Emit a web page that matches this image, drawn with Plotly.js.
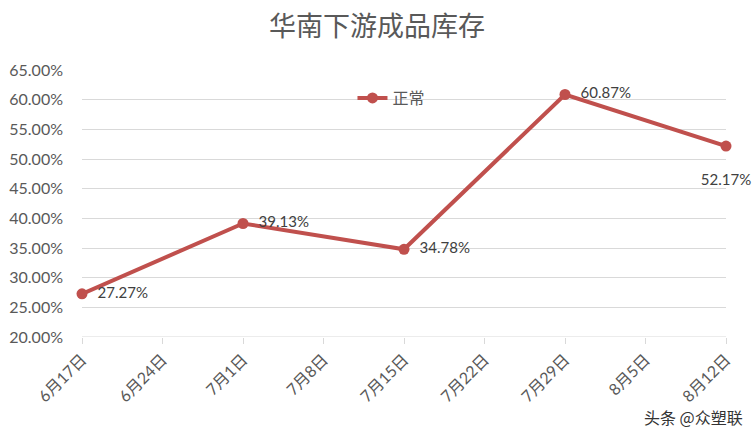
<!DOCTYPE html>
<html>
<head>
<meta charset="utf-8">
<script src="https://cdn.plot.ly/plotly-3.0.1.min.js"></script>
<style>html,body{margin:0;padding:0;background:#fff;}#chart{width:754px;height:443px;}</style>
</head>
<body>
<div id="chart"></div>
<script>
const tickLabels = ["6月17日","6月24日","7月1日","7月8日","7月15日","7月22日","7月29日","8月5日","8月12日"];
const pointDates = ["6月17日","7月1日","7月15日","7月29日","8月12日"];
const values = [0.2727, 0.3913, 0.3478, 0.6087, 0.5217];
const labels = ["27.27%","39.13%","34.78%","60.87%","52.17%"];
const labelPos = ["middle right","middle right","middle right","middle right","bottom center"];
const seriesName = "正常";
const titleText = "华南下游成品库存";

const fontFam = "Lato, 'Noto Sans CJK SC', sans-serif";
const trace = {
  x: pointDates, y: values, name: seriesName, type: "scatter", mode: "lines+markers+text",
  line: {color: "#C0504D", width: 4},
  marker: {color: "#C0504D", size: 11},
  text: labels.map((t, i) => labelPos[i] === "bottom center" ? "<br>" + t : "  " + t),
  textposition: labelPos,
  textfont: {family: fontFam, size: 15, color: "#404040"},
  cliponaxis: false, hoverinfo: "skip"
};
const layout = {
  width: 754, height: 443,
  margin: {l: 82, r: 28, t: 70, b: 106},
  paper_bgcolor: "#fff", plot_bgcolor: "#fff",
  title: {text: titleText, x: 0.5, xanchor: "center", y: 0.94, yanchor: "middle",
          font: {family: "'Noto Sans CJK SC', sans-serif", size: 27, color: "#595959"}},
  showlegend: true,
  legend: {orientation: "h", x: 0.42, xanchor: "left", y: 0.895, yanchor: "middle",
           font: {family: "'Noto Sans CJK SC', sans-serif", size: 16, color: "#595959"},
           bgcolor: "rgba(0,0,0,0)"},
  xaxis: {type: "category", categoryorder: "array", categoryarray: tickLabels,
          range: [0, tickLabels.length - 1], tickangle: -45,
          showgrid: false, showline: false, zeroline: false,
          ticks: "outside", ticklen: 6, tickcolor: "#D9D9D9", tickwidth: 1,
          tickfont: {family: fontFam, size: 16, color: "#595959"}, fixedrange: true},
  yaxis: {range: [0.2, 0.65], dtick: 0.05, tick0: 0.2, tickformat: ".2%",
          showgrid: true, gridcolor: "#D9D9D9", gridwidth: 1, zeroline: false,
          showline: false, ticks: "", ticklabelstandoff: 18,
          tickfont: {family: fontFam, size: 16, color: "#595959"}, fixedrange: true},
  shapes: [{type: "line", xref: "paper", yref: "y", x0: 0, x1: 1, y0: 0.2, y1: 0.2,
            line: {color: "#D9D9D9", width: 1}}],
  annotations: [{text: "头条 @众塑联", xref: "paper", yref: "paper", x: 1.03, xanchor: "right",
                 y: -0.30, yanchor: "middle", showarrow: false,
                 font: {family: "'Noto Sans CJK SC', sans-serif", size: 16, color: "#333"}}]
};
Plotly.newPlot("chart", [trace], layout, {displayModeBar: false, staticPlot: true});
</script>
</body>
</html>
